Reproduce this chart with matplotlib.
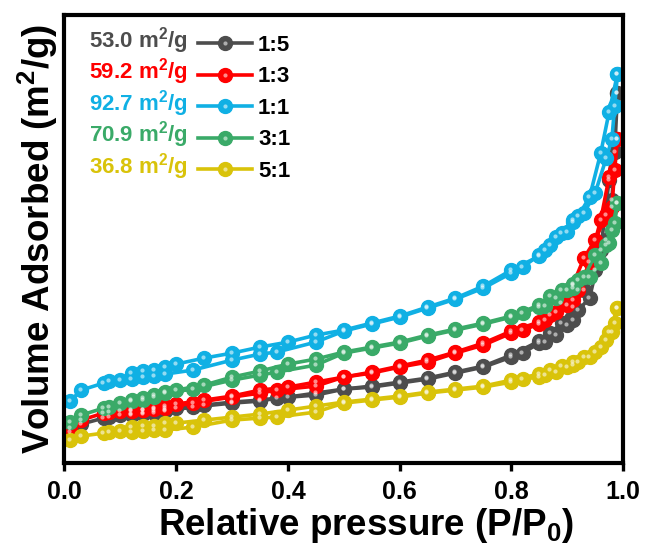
import matplotlib
matplotlib.use("Agg")
import matplotlib.pyplot as plt
import matplotlib.transforms as mtransforms
from matplotlib.lines import Line2D
from matplotlib.legend_handler import HandlerTuple
import numpy as np

plt.rcParams.update({
    "font.family": "Liberation Sans",
    "font.weight": "bold",
    "axes.labelweight": "bold",
    "mathtext.fontset": "custom",
    "mathtext.rm": "Liberation Sans:bold",
    "mathtext.it": "Liberation Sans:bold",
    "mathtext.bf": "Liberation Sans:bold",
})

# relative pressure grids for the two branches
p_ads = [0.01, 0.03, 0.07, 0.08, 0.10, 0.12, 0.14, 0.16, 0.18, 0.23, 0.30, 0.35, 0.38, 0.45, 0.50, 0.55,
         0.60, 0.65, 0.70, 0.75, 0.80, 0.82, 0.85, 0.86, 0.88, 0.90, 0.91, 0.92, 0.94, 0.96, 0.975, 0.99]
p_des = [0.99, 0.985, 0.98, 0.97, 0.95, 0.93, 0.91, 0.89, 0.87, 0.85, 0.80, 0.75, 0.70, 0.65, 0.60, 0.55,
         0.50, 0.45, 0.40, 0.35, 0.30, 0.25, 0.20, 0.18, 0.16, 0.14, 0.12]

# adsorbed volume (arb. units)
ads_15 = [33, 41, 47, 48, 50, 50, 51, 52, 54, 58, 62, 64, 67, 70, 76, 78,
          82, 86, 92, 98, 108, 112, 122, 123, 130, 140, 145, 155, 167, 215, 285, 372]
des_15 = [372, 313, 265, 225, 195, 175, 158, 142, 132, 124, 110, 99, 93, 87, 83, 79,
          76, 72, 68, 65, 63, 60, 57, 55, 54, 52, 51]
ads_13 = [37, 45, 52, 53, 54, 55, 55, 56, 57, 62, 68, 72, 75, 79, 88, 92,
          98, 103, 112, 120, 132, 135, 141, 145, 153, 160, 165, 175, 203, 245, 288, 326]
des_13 = [326, 295, 258, 250, 225, 207, 180, 162, 150, 143, 134, 122, 113, 105, 99, 93,
          88, 83, 78, 75, 69, 65, 61, 59, 57, 55, 54]
ads_11 = [64, 75, 82, 84, 85, 86, 88, 89, 91, 95, 105, 111, 113, 123, 134, 141,
          148, 157, 166, 177, 192, 198, 210, 215, 228, 233, 243, 249, 268, 312, 353, 391]
des_11 = [391, 359, 326, 307, 272, 252, 245, 232, 220, 209, 195, 179, 167, 158, 149, 142,
          135, 130, 123, 118, 112, 107, 101, 98, 95, 94, 92]
ads_31 = [43, 50, 57, 58, 62, 64, 65, 68, 72, 76, 85, 90, 93, 100, 112, 117,
          122, 129, 135, 141, 148, 152, 158, 159, 167, 175, 177, 185, 188, 202, 222, 262]
des_31 = [262, 242, 235, 220, 210, 188, 181, 175, 169, 160, 149, 142, 136, 130, 123, 118,
          113, 106, 101, 94, 88, 80, 75, 73, 70, 67, 65]
ads_51 = [25, 29, 32, 33, 34, 33, 34, 35, 35, 38, 45, 47, 48, 53, 62, 65,
          68, 72, 75, 78, 83, 86, 88, 90, 93, 98, 100, 103, 108, 118, 133, 157]
des_51 = [157, 142, 133, 125, 113, 108, 103, 99, 95, 91, 85, 79, 76, 73, 69, 66,
          63, 59, 55, 51, 48, 45, 42, 42, 39, 39, 38]

ratios = ["1:5", "1:3", "1:1", "3:1", "5:1"]
areas = ["53.0", "59.2", "92.7", "70.9", "36.8"]
colors = ["#4d4d4d", "#ff0000", "#10b0e4", "#3aaa68", "#d9c30a"]
series = {
    "1:5": (ads_15, des_15),
    "1:3": (ads_13, des_13),
    "1:1": (ads_11, des_11),
    "3:1": (ads_31, des_31),
    "5:1": (ads_51, des_51),
}
draw_order = ["1:5", "1:3", "5:1", "3:1", "1:1"]

LW = 2.6
MS = 10
SPOT = 3.0

fig = plt.figure(figsize=(6.48, 5.5), dpi=100)
ax = fig.add_axes([0.0995, 0.158, 0.862, 0.8155])

# small white spot on each marker, nudged up-left
shine = mtransforms.offset_copy(ax.transData, fig=fig, x=-0.8, y=1.0, units="points")

for key in draw_order:
    c = colors[ratios.index(key)]
    ads, des = series[key]
    for p, v in ((p_ads, ads), (p_des, des)):
        ax.plot(p, v, color=c, lw=LW, marker="o", ms=MS, mec=c, mfc=c, zorder=2)
        ax.plot(p, v, ls="none", marker="o", ms=SPOT, mfc="white", mec="none",
                alpha=0.55, transform=shine, zorder=3)

ax.set_xlim(0, 1.0)
ax.set_ylim(2, 450.5)
ax.set_xticks(np.arange(0, 1.01, 0.2))
ax.set_xticklabels([f"{t:.1f}" for t in np.arange(0, 1.01, 0.2)])
ax.set_yticks([])
ax.tick_params(axis="x", direction="out", length=6, width=2.4, labelsize=18, pad=6)
for s in ax.spines.values():
    s.set_linewidth(3)

ax.set_xlabel("Relative pressure (P/P$_0$)", fontsize=26.5)
ax.xaxis.set_label_coords(0.54, -0.095)
ax.set_ylabel("Volume Adsorbed (m$^2$/g)", fontsize=26.5, labelpad=3)

# legend keys for the curves, surface areas written to the left of each row
keys = []
for c in colors:
    line = Line2D([], [], color=c, lw=LW, marker="o", ms=MS, mfc=c, mec=c)
    spot = Line2D([], [], ls="none", marker="o", ms=SPOT, mfc="white", mec="none", alpha=0.55)
    keys.append((line, spot))
leg = ax.legend(keys, ratios, loc="upper left", frameon=False,
                bbox_to_anchor=(198 / 648, 1 - 35 / 550), bbox_transform=fig.transFigure,
                borderaxespad=0, borderpad=0, fontsize=16, handlelength=2.45,
                handletextpad=0.25, labelspacing=0.47,
                handler_map={tuple: HandlerTuple(ndivide=1)})

fig.canvas.draw()
inv = fig.transFigure.inverted()
for txt, a, c in zip(leg.get_texts(), areas, colors):
    bb = txt.get_window_extent()
    _, y0 = inv.transform((0, bb.y0))
    fig.text(188 / 648, y0, f"{a} m$^2$/g", color=c, fontsize=16,
             ha="right", va="bottom")

fig.savefig("out.png", dpi=100)
